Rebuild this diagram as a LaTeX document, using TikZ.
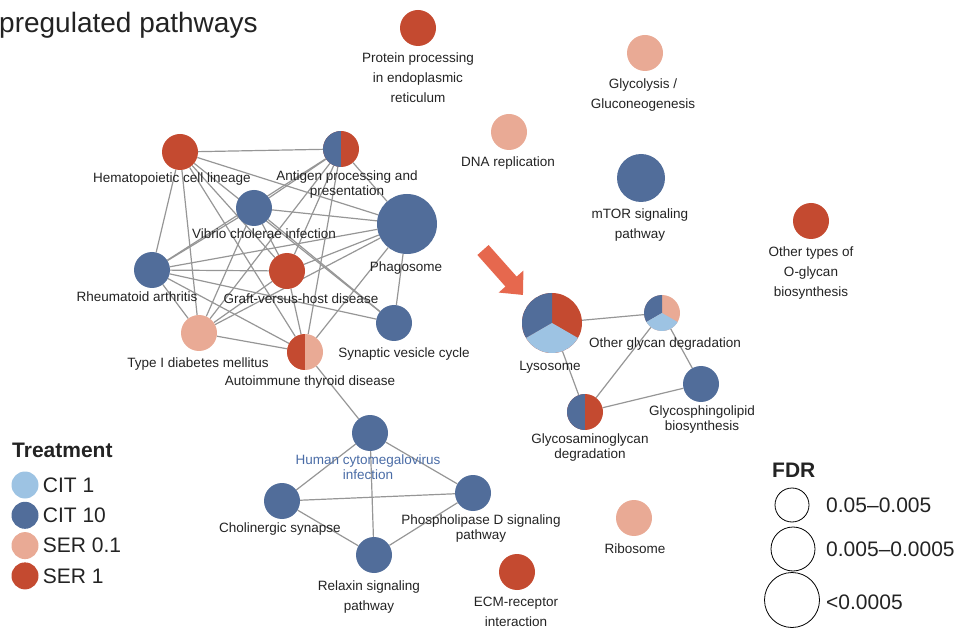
\documentclass[tikz,border=0pt]{standalone}
\usepackage{fontspec}
\setmainfont{Liberation Sans}
\usetikzlibrary{positioning, arrows.meta, backgrounds}
\definecolor{CitLight}{RGB}{157,195,227}
\definecolor{CitDark}{RGB}{81,109,154}
\definecolor{SerLight}{RGB}{233,170,149}
\definecolor{SerDark}{RGB}{196,74,48}
\definecolor{ArrowRed}{RGB}{230,104,78}
\definecolor{EdgeGray}{RGB}{150,150,150}
\definecolor{LabelGray}{RGB}{35,35,35}
\definecolor{HcmvBlue}{RGB}{74,108,166}

\tikzset{
  pw/.style={circle, inner sep=0pt, minimum size=36pt},
  pwmid/.style={pw, minimum size=48pt},
  pwbig/.style={pw, minimum size=60pt},
  halfpie/.style 2 args={fill=#2, path picture={
      \fill[#1] (path picture bounding box.north) rectangle (path picture bounding box.south west);}},
  tripie/.style n args={3}{fill=#3, path picture={
      \fill[#1] (path picture bounding box.center) -- ++(90:40pt) arc[start angle=90, end angle=210, radius=40pt] -- cycle;
      \fill[#2] (path picture bounding box.center) -- ++(210:40pt) arc[start angle=210, end angle=330, radius=40pt] -- cycle;}},
  lbl/.style={font=\fontsize{13.5}{15}\selectfont, text=LabelGray, align=center, inner sep=0pt, anchor=base},
  lbltall/.style={lbl, font=\fontsize{13.5}{20}\selectfont},
  link/.style={draw=EdgeGray, line width=1.2pt},
  legtext/.style={font=\fontsize{21}{24}\selectfont, text=LabelGray, inner sep=0pt, anchor=west},
  legtitle/.style={font=\fontsize{21}{24}\selectfont\bfseries, text=LabelGray, inner sep=0pt, anchor=base west},
}

\begin{document}
\begin{tikzpicture}[x=1pt, y=1pt]
    \useasboundingbox (0,0) rectangle (959,-628);

    % Title
    \node[font=\fontsize{28}{30}\selectfont, text=LabelGray, anchor=base west, inner sep=0pt] (title) at (-1,-33) {pregulated pathways};

    % Pathways with no links (multi-line labels sit on their last line)
    \node[pw, fill=SerDark] (protein) at (418,-28) {};
    \node[lbltall] (proteinlbl) at (418,-103) {Protein processing\\in endoplasmic\\reticulum};
    \node[pw, fill=SerLight] (glyco) at (645,-53) {};
    \node[lbltall] (glycolbl) at (643,-109) {Glycolysis /\\Gluconeogenesis};
    \node[pw, fill=SerLight] (dna) at (509,-132) {};
    \node[lbl] (dnalbl) at (508,-167) {DNA replication};
    \node[pwmid, fill=CitDark] (mtor) at (641,-178) {};
    \node[lbltall] (mtorlbl) at (640,-239) {mTOR signaling\\pathway};
    \node[pw, fill=SerDark] (oglycan) at (811,-221) {};
    \node[lbltall] (oglycanlbl) at (811,-297) {Other types of\\O-glycan\\biosynthesis};
    \node[pw, fill=SerLight] (ribo) at (634,-518) {};
    \node[lbl] (ribolbl) at (635,-553) {Ribosome};
    \node[pw, fill=SerDark] (ecm) at (517,-572) {};
    \node[lbltall] (ecmlbl) at (516,-626) {ECM-receptor\\interaction};

    % Immune cluster
    \node[pw, fill=SerDark] (hema) at (180,-152) {};
    \node[lbl] (hemalbl) at (172,-183) {Hematopoietic cell lineage};
    \node[pw, halfpie={CitDark}{SerDark}] (antigen) at (341,-149) {};
    \node[lbl] (antigenlbl) at (347,-196) {Antigen processing and\\presentation};
    \node[pw, fill=CitDark] (vibrio) at (254,-208) {};
    \node[lbl] (vibriolbl) at (264,-239) {Vibrio cholerae infection};
    \node[pwbig, fill=CitDark] (phago) at (407,-224) {};
    \node[lbl] (phagolbl) at (406,-272) {Phagosome};
    \node[pw, fill=CitDark] (rheum) at (152,-270) {};
    \node[lbl] (rheumlbl) at (137,-302) {Rheumatoid arthritis};
    \node[pw, fill=SerDark] (graft) at (287,-271) {};
    \node[lbl] (graftlbl) at (301,-304) {Graft-versus-host disease};
    \node[pw, fill=CitDark] (synap) at (394,-323) {};
    \node[lbl] (synaplbl) at (404,-358) {Synaptic vesicle cycle};
    \node[pw, fill=SerLight] (diab) at (199,-333) {};
    \node[lbl] (diablbl) at (198,-367) {Type I diabetes mellitus};
    \node[pw, halfpie={SerDark}{SerLight}] (autoimm) at (305,-352) {};
    \node[lbl] (autoimmlbl) at (310,-385) {Autoimmune thyroid disease};

    % Signaling cluster
    \node[pw, fill=CitDark] (hcmv) at (370,-433) {};
    \node[lbl, text=HcmvBlue] (hcmvlbl) at (368,-479) {Human cytomegalovirus\\infection};
    \node[pw, fill=CitDark] (cholin) at (282,-501) {};
    \node[lbl] (cholinlbl) at (280,-532) {Cholinergic synapse};
    \node[pw, fill=CitDark] (pld) at (473,-493) {};
    \node[lbl] (pldlbl) at (481,-539) {Phospholipase D signaling\\pathway};
    \node[pw, fill=CitDark] (relax) at (374,-555) {};
    \node[lbltall] (relaxlbl) at (369,-610) {Relaxin signaling\\pathway};

    % Glycan cluster
    \node[pwbig, tripie={CitDark}{CitLight}{SerDark}] (lyso) at (552,-323) {};
    \node[lbl] (lysolbl) at (550,-371) {Lysosome};
    \node[pw, tripie={CitDark}{CitLight}{SerLight}] (oglyc) at (662,-313) {};
    \node[lbl] (oglyclbl) at (665,-348) {Other glycan degradation};
    \node[pw, fill=CitDark] (gsl) at (701,-384) {};
    \node[lbl] (gsllbl) at (702,-430) {Glycosphingolipid\\biosynthesis};
    \node[pw, halfpie={CitDark}{SerDark}] (gag) at (585,-412) {};
    \node[lbl] (gaglbl) at (590,-458) {Glycosaminoglycan\\degradation};

    % Links
    \begin{scope}[on background layer]
      \foreach \a/\b in {hema/antigen, hema/phago, hema/rheum, hema/diab, hema/graft, hema/autoimm, hema/synap,
          antigen/vibrio, antigen/phago, antigen/rheum, antigen/diab, antigen/graft, antigen/autoimm,
          vibrio/phago, vibrio/rheum, vibrio/diab, vibrio/graft, vibrio/synap,
          phago/rheum, phago/graft, phago/diab, phago/autoimm, phago/synap,
          rheum/graft, rheum/diab, rheum/autoimm, rheum/synap,
          graft/diab, graft/autoimm, diab/autoimm, autoimm/hcmv,
          hcmv/cholin, hcmv/pld, hcmv/relax, cholin/pld, cholin/relax, pld/relax,
          lyso/oglyc, lyso/gag, oglyc/gag, oglyc/gsl, gag/gsl}
        \draw[link] (\a) -- (\b);
    \end{scope}

    % Arrow
    \coordinate (arrtail) at (483,-250);
    \coordinate (arrtip) at (523,-295);
    \draw[ArrowRed, line width=15pt, -{Triangle[length=18pt, width=32pt]}] (arrtail) -- (arrtip);

    % Treatment legend
    \node[legtitle] (treat) at (12,-457) {Treatment};
    \foreach \col/\txt [count=\i] in {CitLight/CIT 1, CitDark/CIT 10, SerLight/SER 0.1, SerDark/SER 1} {
      \node[circle, inner sep=0pt, minimum size=27pt, fill=\col] (leg\i) at (25,{-485-30.3*(\i-1)}) {};
      \node[legtext, right=4pt of leg\i] (legtxt\i) {\txt};
    }

    % FDR legend
    \node[legtitle] (fdr) at (772,-477) {FDR};
    \node[circle, draw, line width=0.8pt, inner sep=0pt, minimum size=34pt] (fdr1) at (792,-505) {};
    \node[legtext] (fdrtxt1) at (826,-505) {0.05--0.005};
    \node[circle, draw, line width=0.8pt, inner sep=0pt, minimum size=44pt] (fdr2) at (793,-549) {};
    \node[legtext] (fdrtxt2) at (826,-549) {0.005--0.0005};
    \node[circle, draw, line width=0.8pt, inner sep=0pt, minimum size=55pt] (fdr3) at (792,-600) {};
    \node[legtext] (fdrtxt3) at (826,-602) {<0.0005};
\end{tikzpicture}
\end{document}
